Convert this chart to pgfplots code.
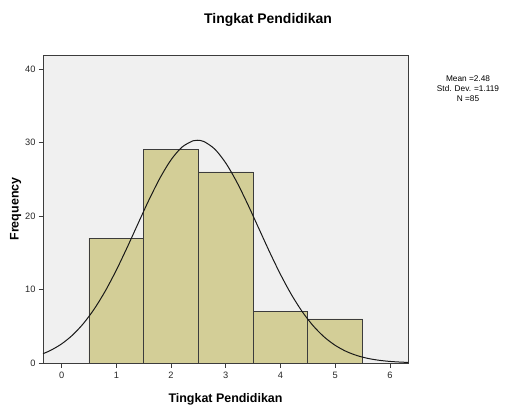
\documentclass[border=0pt]{standalone}
\usepackage{pgfplots}
\pgfplotsset{compat=1.18}
\usepackage{fontspec}
\setmainfont{Liberation Sans}
\definecolor{barfill}{RGB}{211,206,151}
\definecolor{plotbg}{RGB}{240,240,240}
\definecolor{frame}{RGB}{60,60,60}
\begin{document}
\begin{tikzpicture}[x=1bp,y=1bp]
\useasboundingbox (0,0) rectangle (513,410);
\begin{axis}[
  at={(43bp,47bp)}, anchor=south west,
  scale only axis, width=365bp, height=308bp,
  xmin=-0.34, xmax=6.33, ymin=0, ymax=41.9,
  axis background/.style={fill=plotbg},
  axis line style={frame, line width=0.8pt},
  xtick={0,1,2,3,4,5,6}, ytick={0,10,20,30,40},
  tick align=outside, xtick pos=bottom, ytick pos=left,
  major tick length=4.5bp,
  tick style={frame, line width=0.8pt},
  /pgf/number format/assume math mode=true,
  tick label style={font=\fontsize{9.3}{11}\selectfont, text=black!85},
  xticklabel style={yshift=-1bp},
  yticklabel style={xshift=0.5bp},
  xlabel={\textbf{Tingkat Pendidikan}},
  ylabel={\textbf{Frequency}},
  label style={font=\fontsize{12.5}{14}\selectfont},
  xlabel style={at={(axis description cs:0.5,0)}, anchor=base, yshift=-39bp},
  ylabel style={at={(axis description cs:-0.075,0.5)}, anchor=center},
  clip=false,
]
\addplot[ybar, bar width=1, bar shift=0, fill=barfill, draw=frame, line width=0.75pt]
  coordinates {(1,17) (2,29) (3,26) (4,7) (5,6)};
\addplot[smooth, black!90, line width=1pt] coordinates {
(-0.34,1.266) (-0.2,1.722) (0,2.600) (0.2,3.801) (0.4,5.385) (0.6,7.389)
(0.8,9.818) (1.0,12.638) (1.2,15.753) (1.4,19.021) (1.6,22.244) (1.8,25.195)
(2.0,27.641) (2.2,29.370) (2.4,30.227) (2.48,30.304) (2.6,30.130) (2.8,29.090)
(3.0,27.202) (3.2,24.637) (3.4,21.614) (3.6,18.364) (3.8,15.113) (4.0,12.046)
(4.2,9.300) (4.4,6.954) (4.6,5.036) (4.8,3.532) (5.0,2.400) (5.2,1.579)
(5.4,1.007) (5.6,0.622) (5.8,0.372) (6.0,0.215) (6.2,0.121) (6.33,0.081)};
\end{axis}
\node[font=\fontsize{14}{16}\selectfont\bfseries, anchor=base] at (268,387) {Tingkat Pendidikan};
\node[font=\fontsize{8.3}{10}\selectfont, align=center, anchor=north] at (468,338) {Mean =2.48\\Std. Dev. =1.119\\N =85};
\end{tikzpicture}
\end{document}
